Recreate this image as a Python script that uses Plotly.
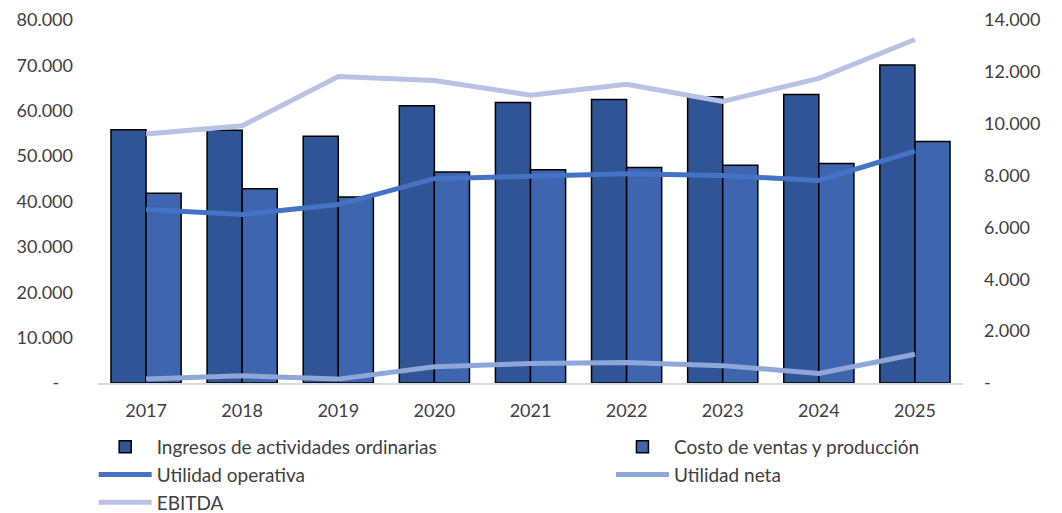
import plotly.graph_objects as go

# --- data (millones)
years = ["2017", "2018", "2019", "2020", "2021", "2022", "2023", "2024", "2025"]
ingresos = [55800, 55700, 54400, 61100, 61800, 62500, 63100, 63600, 70100]
costo = [41800, 42800, 41000, 46500, 47000, 47500, 48000, 48400, 53200]
utilidad_operativa = [6690, 6500, 6880, 7880, 7970, 8070, 8000, 7810, 8940]
utilidad_neta = [150, 280, 150, 630, 750, 790, 670, 370, 1110]
ebitda = [9600, 9920, 11820, 11670, 11100, 11520, 10860, 11750, 13250]

left_ticks = [0, 10000, 20000, 30000, 40000, 50000, 60000, 70000, 80000]
right_ticks = [0, 2000, 4000, 6000, 8000, 10000, 12000, 14000]


def fmt(v, pad=""):
    return "-" + pad if v == 0 else f"{v:,}".replace(",", ".")


fig = go.Figure()

# --- bars (left axis)
fig.add_trace(go.Bar(x=years, y=ingresos, name="Ingresos de actividades ordinarias",
                     marker=dict(color="#2F5597", line=dict(color="black", width=1.5)),
                     legend="legend", legendgroup="a"))
fig.add_trace(go.Bar(x=years, y=costo, name="Costo de ventas y producción",
                     marker=dict(color="#3D66AE", line=dict(color="black", width=1.5)),
                     legend="legend2", legendgroup="b"))

# --- lines (right axis)
fig.add_trace(go.Scatter(x=years, y=utilidad_operativa, name="Utilidad operativa", yaxis="y2",
                         mode="lines", line=dict(color="#4472C4", width=5),
                         legend="legend", legendgroup="c"))
fig.add_trace(go.Scatter(x=years, y=utilidad_neta, name="Utilidad neta", yaxis="y2",
                         mode="lines", line=dict(color="#8FA6D8", width=5),
                         legend="legend2", legendgroup="d"))
fig.add_trace(go.Scatter(x=years, y=ebitda, name="EBITDA", yaxis="y2",
                         mode="lines", line=dict(color="#B7C2E4", width=5),
                         legend="legend", legendgroup="e"))

family = "Lato, Carlito, Calibri, sans-serif"
tick_font = dict(family=family, size=18, color="#404040")
legend_font = dict(family=family, size=19, color="#404040")
legend_style = dict(font=legend_font, bgcolor="rgba(0,0,0,0)", yanchor="top", y=-0.124,
                    orientation="v", itemwidth=53, tracegroupgap=0)

# page has an 8px body margin, so the figure is 8px smaller each way
fig.update_layout(
    width=1054, height=505,
    margin=dict(l=90, r=99, t=12, b=130, autoexpand=False),
    plot_bgcolor="white", paper_bgcolor="white",
    font=tick_font,
    barmode="group", bargap=0.27, bargroupgap=0,
    showlegend=True,
    legend=dict(legend_style, x=-0.005, xanchor="left"),
    legend2=dict(legend_style, x=0.593, xanchor="left"),
    xaxis=dict(showline=True, linecolor="#D9D9D9", linewidth=2, showgrid=False,
               ticks="", tickfont=tick_font, ticklabelstandoff=10),
    yaxis=dict(range=[0, 80000], tickvals=left_ticks,
               ticktext=[fmt(v, "\u00a0\u00a0\u00a0") for v in left_ticks],
               showgrid=False, zeroline=False, showline=False, tickfont=tick_font,
               ticks="", ticklabelstandoff=24),
    yaxis2=dict(range=[0, 14000], tickvals=right_ticks, ticktext=[fmt(v) for v in right_ticks],
                overlaying="y", side="right", showgrid=False, zeroline=False,
                showline=False, tickfont=tick_font, ticks="", ticklabelstandoff=20),
)

fig.write_html("out.html")
